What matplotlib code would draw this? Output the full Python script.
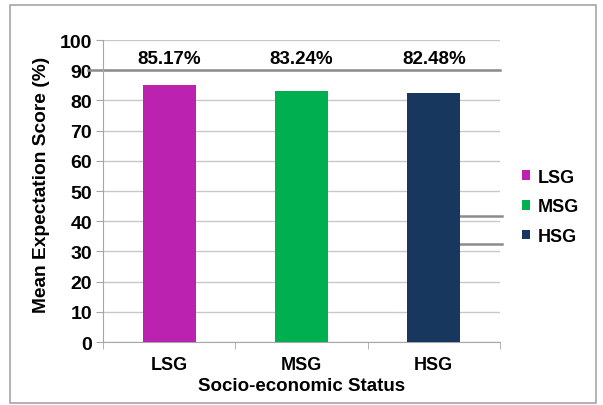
import matplotlib.pyplot as plt
from matplotlib.patches import Rectangle, Patch

plt.rcParams['font.family'] = ['Liberation Sans', 'DejaVu Sans']
plt.rcParams['font.weight'] = 'bold'

groups = ['LSG', 'MSG', 'HSG']
scores = [85.17, 83.24, 82.48]
labels = ['85.17%', '83.24%', '82.48%']
colors = ['#BC22B0', '#00B050', '#17375E']
yticks = [0, 10, 20, 30, 40, 50, 60, 70, 80, 90, 100]

fig = plt.figure(figsize=(6.03, 4.06), dpi=100)
ax = fig.add_axes([0.171, 0.155, 0.658, 0.744])

# frame around the whole chart area
fig.patches.append(Rectangle((10 / 603, 2 / 406), 586 / 603, 398 / 406,
                             transform=fig.transFigure, fill=False,
                             edgecolor='#a6a6a6', linewidth=1.2))

x = range(len(groups))
ax.bar(x, scores, width=0.4, color=colors, zorder=3)

for i, t in enumerate(labels):
    ax.text(i, 91.0, t, ha='center', va='bottom', fontsize=13.5,
            fontweight='bold', zorder=4)

ax.set_xlim(-0.5, 2.5)
ax.set_ylim(0, 100)
ax.set_yticks(yticks)
ax.set_xticks(list(x))
ax.set_xticklabels(groups, fontsize=13, fontweight='bold')
ax.set_xticks([-0.5, 0.5, 1.5, 2.5], minor=True)
ax.tick_params(axis='x', which='major', length=0, pad=10)
ax.tick_params(axis='x', which='minor', length=5, color='#a6a6a6')
ax.tick_params(axis='y', length=5, color='#a6a6a6', labelsize=14, pad=3)
for lbl in ax.get_yticklabels():
    lbl.set_fontweight('bold')

ax.grid(axis='y', color='#c8c8c8', linewidth=1.0, zorder=0)
ax.axhline(90, xmin=-0.038, xmax=1.0, color='#8c8c8c', linewidth=1.8,
           clip_on=False, zorder=2)
for yy in (41.7, 32.5):
    ax.plot([0.90, 1.005], [yy, yy], transform=ax.get_yaxis_transform(),
            color='#8c8c8c', linewidth=1.8, clip_on=False, zorder=2)

for side in ('top', 'right'):
    ax.spines[side].set_visible(False)
ax.spines['left'].set_color('#a6a6a6')
ax.spines['bottom'].set_color('#a6a6a6')

ax.set_ylabel('Mean Expectation Score (%)', fontsize=13.8, fontweight='bold')
ax.yaxis.set_label_coords(-0.133, 0.525)
ax.set_xlabel('Socio-economic Status', fontsize=13.5, fontweight='bold',
              labelpad=3)

handles = [Patch(facecolor=c) for c in colors]
fig.legend(handles, groups, loc='center left', bbox_to_anchor=(0.866, 0.488),
           frameon=False, handlelength=0.45, handleheight=0.45,
           handletextpad=0.4, labelspacing=0.7, borderpad=0, borderaxespad=0,
           prop={'weight': 'bold', 'size': 13})

fig.savefig('out.png', dpi=100)
